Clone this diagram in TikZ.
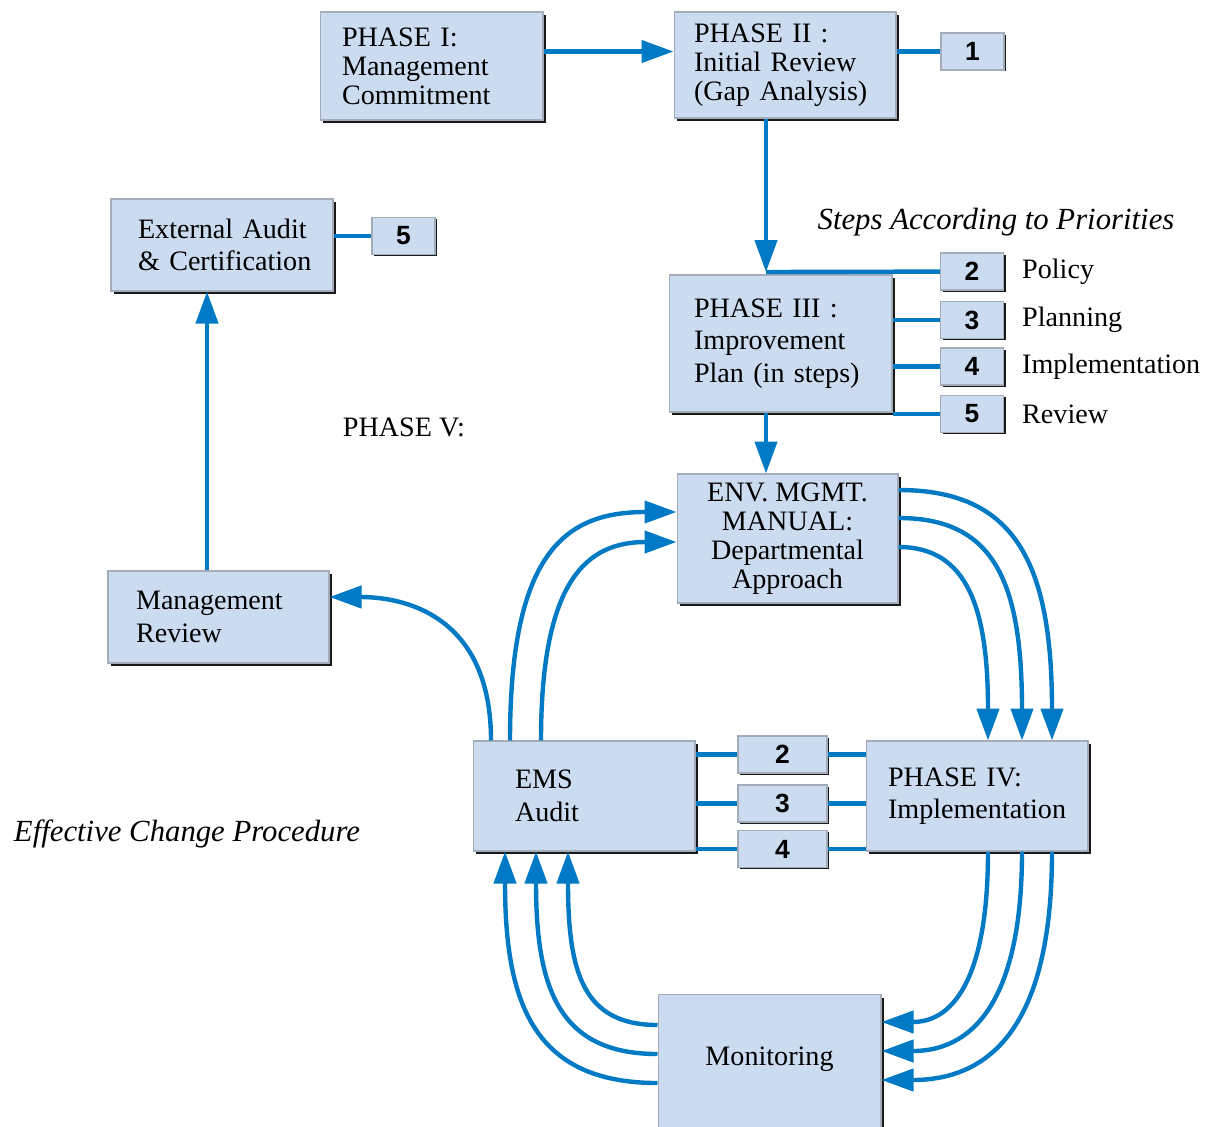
\documentclass[tikz,border=0pt]{standalone}
\usepackage{fontspec}
\setmainfont{Liberation Serif}
\newfontfamily\numfont{Liberation Sans}
\usetikzlibrary{arrows.meta,shadows}

\definecolor{boxfill}{RGB}{203,219,240}
\definecolor{boxline}{RGB}{165,172,185}
\definecolor{flow}{RGB}{0,122,196}

\tikzset{
  box/.style={draw=boxline, line width=0.6pt, fill=boxfill, align=left,
    font=\fontsize{16}{16.5}\selectfont,
    drop shadow={shadow xshift=0.06cm, shadow yshift=-0.06cm, fill=black, opacity=0.9}},
  loose/.style={font=\fontsize{16}{18.5}\selectfont},
  numbox/.style={draw=boxline, line width=0.6pt, fill=boxfill, inner sep=0pt,
    minimum width=1.26cm, minimum height=0.74cm,
    font=\numfont\bfseries\fontsize{15}{15}\selectfont,
    drop shadow={shadow xshift=0.04cm, shadow yshift=-0.03cm, fill=black, opacity=0.9}},
  lbl/.style={anchor=west, font=\fontsize{16}{16}\selectfont},
  note/.style={font=\itshape\fontsize{17.5}{17.5}\selectfont},
  ln/.style={flow, line width=2.5pt},
  arr/.style={ln, -{Triangle[length=0.64cm,width=0.44cm]}}
}

\begin{document}
\begin{tikzpicture}[x=0.02cm, y=-0.02cm]
\useasboundingbox (0,0) rectangle (1219,1126);

% phases I to III
\node[box, text width=3.58cm, inner xsep=0.44cm, minimum height=2.16cm] (p1) at (431.5,66) {PHASE I:\\Management\\Commitment};
\node[box, text width=3.64cm, inner xsep=0.4cm, minimum height=2.12cm] (p2) at (785,65) {PHASE II :\\Initial~Review\\(Gap~Analysis)};
\node[numbox] (one) at (972.5,51.5) {1};
\node[box, loose, text width=3.46cm, inner xsep=0.5cm, minimum height=2.74cm] (p3) at (780.5,343.5) {PHASE III :\\Improvement\\Plan~(in~steps)};
\node[numbox] (s2) at (972,271.5) {2};
\node[numbox] (s3) at (972,320) {3};
\node[numbox] (s4) at (972,366.5) {4};
\node[numbox] (s5) at (972,414) {5};
\node[lbl] (policy) at (1016,272) {Policy};
\node[lbl] (planning) at (1016,320) {Planning};
\node[lbl] (impl) at (1016,367) {Implementation};
\node[lbl] (review) at (1016,414) {Review};
\node[note] (steps) at (996,222) {Steps According to Priorities};

% manual, audit, phase IV, monitoring
\node[box, align=center, minimum width=4.42cm, minimum height=2.58cm] (env) at (787.5,538.5) {ENV. MGMT.\\MANUAL:\\Departmental\\Approach};
\node[box, loose, text width=2.76cm, inner xsep=0.84cm, minimum height=2.2cm] (ems) at (584,796) {EMS\\Audit};
\node[box, loose, text width=3.56cm, inner xsep=0.44cm, minimum height=2.2cm] (p4) at (977,796) {PHASE IV:\\Implementation};
\node[numbox, minimum width=1.78cm] (a2) at (782.5,754.5) {2};
\node[numbox, minimum width=1.78cm] (a3) at (782.5,803.5) {3};
\node[numbox, minimum width=1.78cm] (a4) at (782.5,849) {4};
\node[box, minimum width=4.46cm, minimum height=3.2cm, anchor=north] (mon) at (769.5,994) {};
\node[font=\fontsize{16}{16}\selectfont] (montext) at (769.5,1059) {Monitoring};

% phase V
\node[box, loose, text width=3.3cm, inner xsep=0.56cm, minimum height=1.84cm] (mr) at (218.5,617) {Management\\Review};
\node[box, loose, text width=3.84cm, inner xsep=0.3cm, minimum height=1.84cm] (ea) at (222,245) {\hspace{0.24cm}External~Audit\\\hspace{0.24cm}\&~Certification};
\node[numbox] (f5) at (403.5,236) {5};
\node[font=\fontsize{16}{16}\selectfont] (phase5) at (404,427) {PHASE V:};
\node[note] (ecp) at (187,834) {Effective Change Procedure};

% straight connectors
\draw[arr] (p1.east |- one) -- (p2.west |- one);
\draw[ln] (p2.east |- one) -- (one);
\coordinate (j3) at (766,272);
\draw[arr] (p2.south -| j3) -- (j3);
\draw[ln] (j3) -- (s2);
\draw[ln] (p3.east |- s3) -- (s3);
\draw[ln] (p3.east |- s4) -- (s4);
\draw[ln] (p3.east |- s5) -- (s5);
\draw[arr] (p3.south -| j3) -- (env.north -| j3);
\draw[ln] (ea.east |- f5) -- (f5);
\draw[arr] (mr.north -| 207,0) -- (ea.south -| 207,0);
\foreach \n in {a2,a3,a4} {
  \draw[ln] (ems.east |- \n) -- (\n);
  \draw[ln] (\n) -- (p4.west |- \n);
}

% curved connectors
\draw[arr] (ems.north -| 491,0) .. controls +(0,-125) and +(75,0) .. (mr.east |- 0,597);
\draw[arr] (ems.north -| 510,0) .. controls +(0,-190) and +(-110,0) .. (env.west |- 0,512);
\draw[arr] (ems.north -| 541,0) .. controls +(0,-160) and +(-90,0) .. (env.west |- 0,542);
\draw[arr] (env.east |- 0,490) .. controls +(115,0) and +(0,-180) .. (p4.north -| 1052,0);
\draw[arr] (env.east |- 0,518) .. controls +(95,0) and +(0,-160) .. (p4.north -| 1022,0);
\draw[arr] (env.east |- 0,547) .. controls +(70,0) and +(0,-130) .. (p4.north -| 988,0);
\draw[arr] (p4.south -| 988,0) .. controls +(0,120) and +(75,0) .. (mon.east |- 0,1022);
\draw[arr] (p4.south -| 1022,0) .. controls +(0,135) and +(100,0) .. (mon.east |- 0,1051);
\draw[arr] (p4.south -| 1052,0) .. controls +(0,150) and +(125,0) .. (mon.east |- 0,1080);
\draw[arr] (mon.west |- 0,1025) .. controls +(-75,0) and +(0,120) .. (ems.south -| 568,0);
\draw[arr] (mon.west |- 0,1054) .. controls +(-100,0) and +(0,135) .. (ems.south -| 536,0);
\draw[arr] (mon.west |- 0,1083) .. controls +(-125,0) and +(0,150) .. (ems.south -| 505,0);
\end{tikzpicture}
\end{document}
